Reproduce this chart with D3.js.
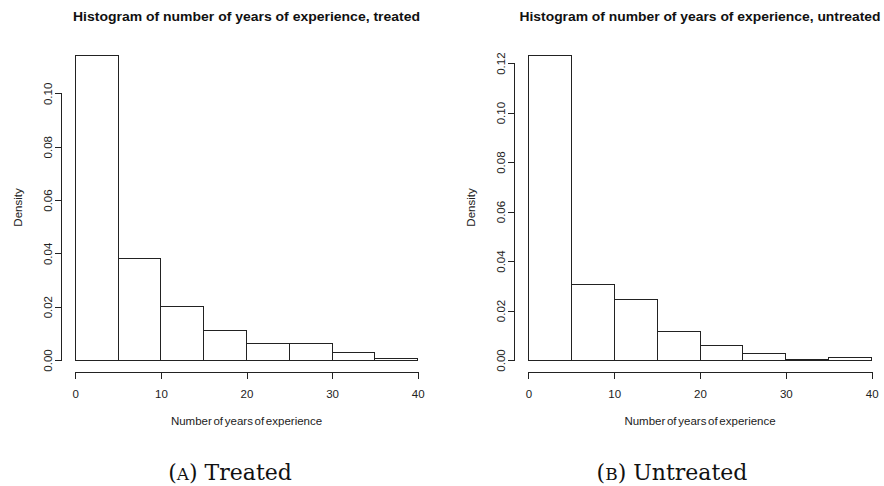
<!DOCTYPE html>
<html>
<head>
<meta charset="utf-8">
<script src="https://cdn.jsdelivr.net/npm/d3@7"></script>
<style>
  html, body { margin: 0; padding: 0; background: #fff; }
  svg { display: block; }
</style>
</head>
<body>
<svg id="chart" width="884" height="486"></svg>
<script>
// ---- data ----
const binEdges = [0, 5, 10, 15, 20, 25, 30, 35, 40];
const treatedDensity = [0.1144, 0.0379, 0.0201, 0.0110, 0.0063, 0.0063, 0.0029, 0.0006];
const untreatedDensity = [0.1233, 0.0304, 0.0244, 0.0115, 0.0057, 0.0028, 0.0003, 0.0011];
const xTicks = [0, 10, 20, 30, 40];
const treatedYTicks = [0, 0.02, 0.04, 0.06, 0.08, 0.10];
const untreatedYTicks = [0, 0.02, 0.04, 0.06, 0.08, 0.10, 0.12];
const titles = ["Histogram of number of years of experience, treated",
                "Histogram of number of years of experience, untreated"];
const captionLetters = ["A", "B"];
const captionWords = ["Treated", "Untreated"];
const xLabel = "Number of years of experience";
const yLabel = "Density";

(function () {
const svg = d3.select("#chart");
const sans = "'Liberation Sans', Arial, Helvetica, sans-serif";

const panels = [
  { values: treatedDensity, yTicks: treatedYTicks, left: 61.6, right: 431.4, titleLen: 347, capX: 230 },
  { values: untreatedDensity, yTicks: untreatedYTicks, left: 514.6, right: 885.4, titleLen: 361, capX: 672 }
];
const plotTop = 42.8, plotBottom = 372.2;

panels.forEach((p, i) => {
  const g = svg.append("g");
  const xmin = binEdges[0], xmax = binEdges[binEdges.length - 1];
  const xpad = 0.04 * (xmax - xmin);
  const x = d3.scaleLinear().domain([xmin - xpad, xmax + xpad]).range([p.left, p.right]);
  const ymax = d3.max(p.values);
  const y = d3.scaleLinear().domain([-0.04 * ymax, 1.04 * ymax]).range([plotBottom, plotTop]);

  const bins = p.values.map((v, k) => ({ x0: binEdges[k], x1: binEdges[k + 1], v }));

  g.selectAll("rect.bar").data(bins).enter().append("rect")
    .attr("class", "bar")
    .attr("x", d => x(d.x0))
    .attr("width", d => x(d.x1) - x(d.x0))
    .attr("y", d => y(d.v))
    .attr("height", d => y(0) - y(d.v))
    .attr("fill", "#fff")
    .attr("stroke", "#222")
    .attr("stroke-width", 1)
    .attr("shape-rendering", "crispEdges");

  // x axis
  const xAxis = d3.axisBottom(x).tickValues(xTicks).tickSize(6.5).tickFormat(d3.format("d"));
  const gx = g.append("g").attr("transform", `translate(0,${plotBottom})`).call(xAxis);
  gx.select(".domain").remove();
  gx.append("line")
    .attr("x1", x(xTicks[0])).attr("x2", x(xTicks[xTicks.length - 1]))
    .attr("y1", 0).attr("y2", 0).attr("stroke", "currentColor");
  gx.attr("color", "#222").attr("font-family", sans).attr("font-size", 11.5)
    .attr("shape-rendering", "crispEdges");
  gx.selectAll("text").attr("fill", "#222").attr("dy", 0).attr("y", 26);

  // y axis
  const yAxis = d3.axisLeft(y).tickValues(p.yTicks).tickSize(7).tickFormat(d3.format(".2f"));
  const gy = g.append("g").attr("transform", `translate(${p.left},0)`).call(yAxis);
  gy.select(".domain").remove();
  gy.append("line")
    .attr("y1", y(p.yTicks[0])).attr("y2", y(p.yTicks[p.yTicks.length - 1]))
    .attr("x1", 0).attr("x2", 0).attr("stroke", "currentColor");
  gy.attr("color", "#222").attr("font-family", sans).attr("font-size", 11.5)
    .attr("shape-rendering", "crispEdges");
  gy.selectAll("text")
    .attr("fill", "#222")
    .attr("x", 0).attr("y", -10).attr("dy", 0)
    .attr("text-anchor", "middle")
    .attr("transform", "rotate(-90)");

  // axis labels
  g.append("text")
    .attr("x", (x(xmin) + x(xmax)) / 2).attr("y", 425)
    .attr("text-anchor", "middle")
    .attr("font-family", sans).attr("font-size", 11.5).attr("fill", "#222")
    .attr("word-spacing", "-1.5px")
    .text(xLabel);
  g.append("text")
    .attr("transform", `translate(${p.left - 40},${(plotTop + plotBottom) / 2}) rotate(-90)`)
    .attr("text-anchor", "middle")
    .attr("font-family", sans).attr("font-size", 11.5).attr("fill", "#222")
    .text(yLabel);

  // title
  g.append("text")
    .attr("x", (x(xmin) + x(xmax)) / 2).attr("y", 21)
    .attr("text-anchor", "middle")
    .attr("font-family", sans).attr("font-size", 12).attr("font-weight", "bold").attr("fill", "#111")
    .attr("textLength", p.titleLen).attr("lengthAdjust", "spacingAndGlyphs")
    .text(titles[i]);

  // caption
  const cap = g.append("text")
    .attr("x", p.capX).attr("y", 480)
    .attr("text-anchor", "middle")
    .attr("font-family", "'DejaVu Serif', 'Liberation Serif', serif").attr("font-size", 22).attr("fill", "#111");
  cap.append("tspan").text("(");
  cap.append("tspan").attr("font-size", 17).text(captionLetters[i]);
  cap.append("tspan").text(") " + captionWords[i]);
});
})();
</script>
</body>
</html>
